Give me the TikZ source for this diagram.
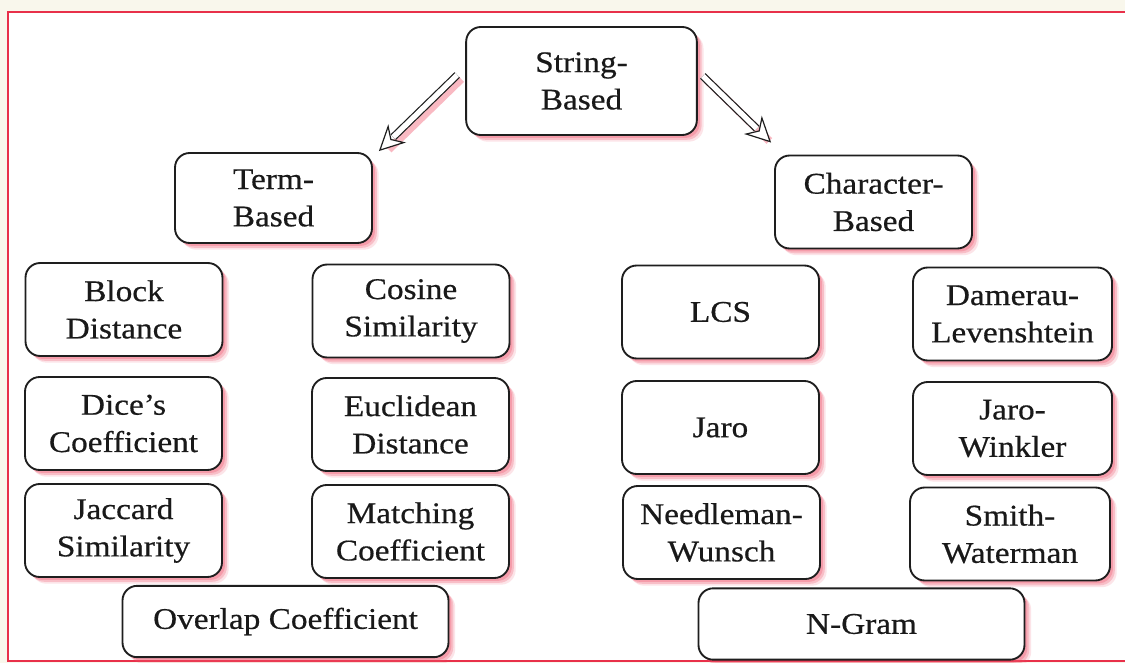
\documentclass[tikz,border=0pt]{standalone}
\usepackage{fontspec}
\setmainfont[FakeStretch=1.11, FakeBold=0.5]{Liberation Serif}
\usetikzlibrary{calc,shadows,arrows.meta}

\definecolor{framered}{HTML}{E8304A}
\definecolor{shadowpink}{HTML}{F05068}
\definecolor{paper}{HTML}{F9F7EC}
\definecolor{inkline}{HTML}{1E1E1E}

\tikzset{
  softshadow/.style={
    general shadow={fill=shadowpink, opacity=0.15, shadow xshift=5pt, shadow yshift=-5pt},
    general shadow={fill=shadowpink, opacity=0.25, shadow xshift=3.6pt, shadow yshift=-3.6pt},
    general shadow={fill=shadowpink, opacity=0.30, shadow xshift=2.2pt, shadow yshift=-2.2pt}},
  box/.style={softshadow, draw=inkline, line width=1.4pt, fill=white,
    rounded corners=11pt, align=center, text=black!90,
    font=\fontsize{22.5pt}{28pt}\selectfont,
    minimum width=147.75pt, minimum height=69.75pt, inner sep=2pt},
  bigbox/.style={box, minimum width=173pt, minimum height=81pt},
  widebox/.style={box, minimum width=244.5pt, minimum height=53.5pt},
  hollowshaft/.style={draw=inkline, double=white, double distance=4pt, line width=0.9pt},
  hollowhead/.style={white, line width=0.1pt,
    -{Stealth[length=19pt, width=19pt, inset=6pt, fill=white, color=inkline, line width=0.9pt]}},
  arrowshade/.style={draw=shadowpink, opacity=0.4, line width=6pt,
    transform canvas={shift={(3pt,-3pt)}}}
}

\begin{document}
\begin{tikzpicture}[x=0.75pt, y=-0.75pt]
  \useasboundingbox (0,0) rectangle (1125,663);
  % paper and frame
  \fill[paper] (0,0) rectangle (1125,663);
  \fill[white] (8,12) rectangle (1125,661);
  \draw[framered, line width=2.2pt] (1130,12) -- (8,12) -- (8,661) -- (1130,661);

  % root and the two families
  \node[bigbox] (sb) at (581.5,81) {String-\\Based};
  \node[box, minimum height=67.5pt] (tb) at (273.5,198) {Term-\\Based};
  \node[box] (cb) at (873.5,202) {Character-\\Based};

  % term-based measures
  \node[box] (blk) at (124,309.5) {Block\\Distance};
  \node[box] (cos) at (411,311) {Cosine\\Similarity};
  \node[box] (dic) at (123.5,423.5) {Dice's\\Coefficient};
  \node[box] (euc) at (410.5,424.5) {Euclidean\\Distance};
  \node[box] (jac) at (123.5,530.5) {Jaccard\\Similarity};
  \node[box] (mat) at (410.5,531.5) {Matching\\Coefficient};
  \node[widebox] (ovl) at (285.5,621.5) {Overlap Coefficient};

  % character-based measures
  \node[box] (lcs) at (720.5,312) {LCS};
  \node[box, minimum width=149.25pt] (dam) at (1012.5,314) {Damerau-\\Levenshtein};
  \node[box] (jar) at (720.5,427.5) {Jaro};
  \node[box, minimum width=149.25pt] (jwk) at (1012.5,428.5) {Jaro-\\Winkler};
  \node[box] (ndl) at (721.5,532.5) {Needleman-\\Wunsch};
  \node[box, minimum width=150pt] (smw) at (1010,534) {Smith-\\Waterman};
  \node[widebox] (ngr) at (861.5,624) {N-Gram};

  % arrow end points around the boxes
  \coordinate (l0) at ($(sb.west)+(-8,-6)$);
  \coordinate (l1) at ($(tb.north east)+(6,-1)$);
  \coordinate (r0) at ($(sb.east)+(5,-5)$);
  \coordinate (r1) at ($(cb.north west)+(-3,-12)$);

  % hollow arrows with a pink shade
  \draw[arrowshade, shorten >=6pt] (l0) -- (l1);
  \draw[arrowshade, shorten >=6pt] (r0) -- (r1);
  \draw[hollowshaft, shorten >=15pt] (l0) -- (l1);
  \draw[hollowshaft, shorten >=15pt] (r0) -- (r1);
  \draw[hollowhead] ($(l1)!3pt!(l0)$) -- (l1);
  \draw[hollowhead] ($(r1)!3pt!(r0)$) -- (r1);
\end{tikzpicture}
\end{document}
